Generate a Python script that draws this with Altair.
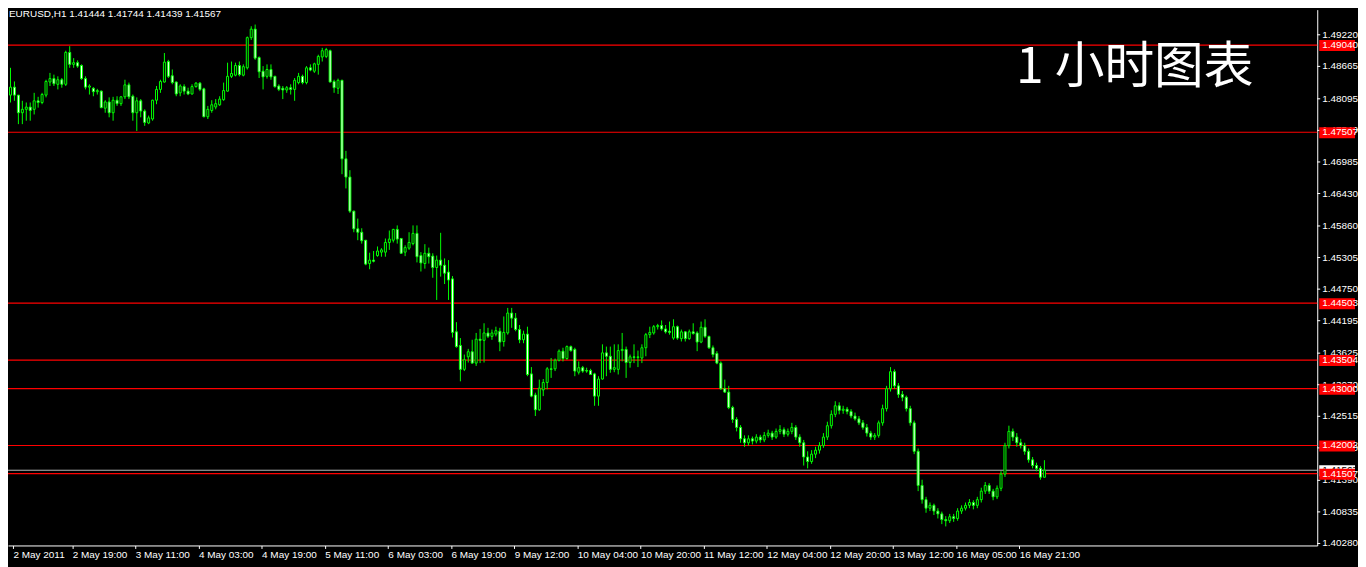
import json
import altair as alt
import pandas as pd

# ---------------- data ----------------
opens = [
    1.4816, 1.4830, 1.4816, 1.4785, 1.4791, 1.4795, 1.4791, 1.4806, 1.4803, 1.4816,
    1.4839, 1.4845, 1.4835, 1.4843, 1.4835, 1.4891, 1.4870, 1.4873, 1.4868, 1.4845,
    1.4830, 1.4828, 1.4822, 1.4823, 1.4793, 1.4804, 1.4785, 1.4807, 1.4801, 1.4813,
    1.4834, 1.4814, 1.4785, 1.4806, 1.4788, 1.4767, 1.4774, 1.4807, 1.4826, 1.4839,
    1.4875, 1.4850, 1.4839, 1.4820, 1.4831, 1.4823, 1.4818, 1.4831, 1.4837, 1.4827,
    1.4778, 1.4789, 1.4795, 1.4799, 1.4808, 1.4823, 1.4849, 1.4851, 1.4868, 1.4851,
    1.4864, 1.4917, 1.4932, 1.4882, 1.4858, 1.4849, 1.4861, 1.4849, 1.4832, 1.4828,
    1.4825, 1.4829, 1.4826, 1.4838, 1.4849, 1.4838, 1.4864, 1.4858, 1.4870, 1.4883,
    1.4884, 1.4894, 1.4840, 1.4828, 1.4842, 1.4704, 1.4672, 1.4612, 1.4581, 1.4575,
    1.4561, 1.4520, 1.4526, 1.4534, 1.4540, 1.4540, 1.4557, 1.4561, 1.4580, 1.4564,
    1.4540, 1.4547, 1.4555, 1.4573, 1.4534, 1.4520, 1.4538, 1.4533, 1.4513, 1.4526,
    1.4517, 1.4505, 1.4493, 1.4400, 1.4376, 1.4334, 1.4356, 1.4365, 1.4345, 1.4387,
    1.4385, 1.4398, 1.4392, 1.4396, 1.4401, 1.4383, 1.4398, 1.4433, 1.4424, 1.4404,
    1.4386, 1.4396, 1.4326, 1.4289, 1.4263, 1.4298, 1.4311, 1.4335, 1.4335, 1.4350,
    1.4366, 1.4353, 1.4374, 1.4369, 1.4329, 1.4337, 1.4332, 1.4332, 1.4326, 1.4287,
    1.4317, 1.4363, 1.4357, 1.4334, 1.4334, 1.4367, 1.4369, 1.4346, 1.4356, 1.4355,
    1.4354, 1.4372, 1.4395, 1.4398, 1.4409, 1.4411, 1.4405, 1.4401, 1.4389, 1.4409,
    1.4388, 1.4400, 1.4388, 1.4400, 1.4398, 1.4382, 1.4408, 1.4392, 1.4372, 1.4362,
    1.4345, 1.4300, 1.4294, 1.4267, 1.4246, 1.4232, 1.4212, 1.4205, 1.4212, 1.4208,
    1.4215, 1.4210, 1.4218, 1.4222, 1.4215, 1.4225, 1.4228, 1.4220, 1.4225, 1.4232,
    1.4215, 1.4205, 1.4180, 1.4172, 1.4185, 1.4192, 1.4200, 1.4215, 1.4235, 1.4255,
    1.4270, 1.4262, 1.4264, 1.4260, 1.4252, 1.4247, 1.4240, 1.4232, 1.4222, 1.4215,
    1.4218, 1.4240, 1.4265, 1.4300, 1.4330, 1.4305, 1.4290, 1.4285, 1.4265, 1.4240,
    1.4190, 1.4130, 1.4105, 1.4090, 1.4095, 1.4085, 1.4080, 1.4070, 1.4068, 1.4075,
    1.4072, 1.4085, 1.4090, 1.4095, 1.4100, 1.4095, 1.4105, 1.4120, 1.4130, 1.4120,
    1.4110, 1.4125, 1.4150, 1.4200, 1.4225, 1.4215, 1.4205, 1.4200, 1.4190, 1.4175,
    1.4165, 1.4160, 1.41444,
]
highs = [
    1.4864, 1.4840, 1.4816, 1.4806, 1.4803, 1.4803, 1.4820, 1.4813, 1.4820, 1.4843,
    1.4855, 1.4852, 1.4849, 1.4846, 1.4894, 1.4902, 1.4881, 1.4877, 1.4870, 1.4849,
    1.4835, 1.4830, 1.4827, 1.4824, 1.4807, 1.4812, 1.4813, 1.4814, 1.4814, 1.4843,
    1.4838, 1.4817, 1.4812, 1.4809, 1.4791, 1.4780, 1.4808, 1.4832, 1.4843, 1.4890,
    1.4878, 1.4861, 1.4840, 1.4835, 1.4835, 1.4829, 1.4835, 1.4839, 1.4839, 1.4829,
    1.4797, 1.4807, 1.4809, 1.4814, 1.4838, 1.4873, 1.4875, 1.4873, 1.4875, 1.4870,
    1.4919, 1.4937, 1.4940, 1.4884, 1.4867, 1.4870, 1.4870, 1.4850, 1.4835, 1.4832,
    1.4832, 1.4835, 1.4846, 1.4855, 1.4852, 1.4867, 1.4870, 1.4873, 1.4887, 1.4899,
    1.4899, 1.4896, 1.4843, 1.4845, 1.4843, 1.4718, 1.4684, 1.4613, 1.4599, 1.4582,
    1.4561, 1.4539, 1.4542, 1.4550, 1.4547, 1.4564, 1.4578, 1.4581, 1.4587, 1.4565,
    1.4552, 1.4575, 1.4587, 1.4587, 1.4540, 1.4554, 1.4548, 1.4538, 1.4534, 1.4574,
    1.4529, 1.4526, 1.4498, 1.4417, 1.4389, 1.4360, 1.4370, 1.4386, 1.4398, 1.4405,
    1.4415, 1.4407, 1.4404, 1.4409, 1.4407, 1.4427, 1.4442, 1.4442, 1.4433, 1.4412,
    1.4402, 1.4409, 1.4338, 1.4293, 1.4316, 1.4317, 1.4338, 1.4354, 1.4353, 1.4369,
    1.4372, 1.4376, 1.4376, 1.4372, 1.4348, 1.4340, 1.4337, 1.4335, 1.4328, 1.4322,
    1.4378, 1.4374, 1.4374, 1.4378, 1.4378, 1.4398, 1.4374, 1.4360, 1.4378, 1.4367,
    1.4378, 1.4398, 1.4409, 1.4412, 1.4414, 1.4420, 1.4412, 1.4418, 1.4422, 1.4411,
    1.4404, 1.4401, 1.4404, 1.4415, 1.4401, 1.4418, 1.4422, 1.4393, 1.4376, 1.4366,
    1.4348, 1.4316, 1.4305, 1.4270, 1.4250, 1.4236, 1.4218, 1.4218, 1.4216, 1.4220,
    1.4219, 1.4224, 1.4228, 1.4226, 1.4230, 1.4236, 1.4232, 1.4230, 1.4240, 1.4236,
    1.4220, 1.4210, 1.4190, 1.4192, 1.4198, 1.4206, 1.4222, 1.4242, 1.4262, 1.4278,
    1.4276, 1.4270, 1.4268, 1.4264, 1.4258, 1.4252, 1.4245, 1.4238, 1.4226, 1.4222,
    1.4244, 1.4272, 1.4305, 1.4338, 1.4334, 1.4310, 1.4296, 1.4288, 1.4270, 1.4244,
    1.4195, 1.4140, 1.4110, 1.4100, 1.4098, 1.4090, 1.4084, 1.4076, 1.4080, 1.4080,
    1.4090, 1.4095, 1.4100, 1.4106, 1.4104, 1.4110, 1.4126, 1.4136, 1.4134, 1.4124,
    1.4130, 1.4155, 1.4205, 1.4235, 1.4230, 1.4222, 1.4212, 1.4205, 1.4195, 1.4180,
    1.4170, 1.4164, 1.41744,
]
lows = [
    1.4803, 1.4806, 1.4765, 1.4765, 1.4771, 1.4771, 1.4782, 1.4794, 1.4800, 1.4812,
    1.4832, 1.4832, 1.4826, 1.4829, 1.4832, 1.4864, 1.4864, 1.4864, 1.4843, 1.4826,
    1.4817, 1.4814, 1.4817, 1.4793, 1.4785, 1.4777, 1.4771, 1.4797, 1.4797, 1.4809,
    1.4809, 1.4771, 1.4753, 1.4777, 1.4762, 1.4765, 1.4771, 1.4800, 1.4820, 1.4838,
    1.4846, 1.4835, 1.4814, 1.4814, 1.4817, 1.4816, 1.4817, 1.4829, 1.4823, 1.4777,
    1.4774, 1.4785, 1.4791, 1.4797, 1.4806, 1.4822, 1.4846, 1.4849, 1.4849, 1.4849,
    1.4861, 1.4913, 1.4878, 1.4846, 1.4826, 1.4845, 1.4843, 1.4829, 1.4823, 1.4809,
    1.4820, 1.4817, 1.4806, 1.4835, 1.4835, 1.4835, 1.4858, 1.4855, 1.4852, 1.4875,
    1.4881, 1.4838, 1.4820, 1.4818, 1.4677, 1.4652, 1.4609, 1.4575, 1.4561, 1.4555,
    1.4517, 1.4510, 1.4522, 1.4532, 1.4532, 1.4532, 1.4544, 1.4557, 1.4555, 1.4537,
    1.4533, 1.4544, 1.4552, 1.4522, 1.4506, 1.4511, 1.4520, 1.4495, 1.4456, 1.4497,
    1.4484, 1.4456, 1.4390, 1.4372, 1.4313, 1.4331, 1.4346, 1.4344, 1.4340, 1.4345,
    1.4346, 1.4389, 1.4386, 1.4392, 1.4366, 1.4374, 1.4395, 1.4407, 1.4401, 1.4380,
    1.4380, 1.4322, 1.4285, 1.4252, 1.4261, 1.4287, 1.4299, 1.4319, 1.4331, 1.4348,
    1.4348, 1.4351, 1.4365, 1.4322, 1.4325, 1.4328, 1.4328, 1.4324, 1.4270, 1.4270,
    1.4316, 1.4322, 1.4328, 1.4329, 1.4325, 1.4348, 1.4319, 1.4337, 1.4345, 1.4338,
    1.4345, 1.4357, 1.4389, 1.4395, 1.4404, 1.4402, 1.4397, 1.4395, 1.4386, 1.4386,
    1.4383, 1.4383, 1.4386, 1.4395, 1.4366, 1.4380, 1.4389, 1.4370, 1.4355, 1.4343,
    1.4298, 1.4293, 1.4264, 1.4240, 1.4225, 1.4205, 1.4198, 1.4200, 1.4202, 1.4204,
    1.4205, 1.4206, 1.4214, 1.4210, 1.4212, 1.4220, 1.4215, 1.4216, 1.4220, 1.4210,
    1.4198, 1.4165, 1.4160, 1.4168, 1.4178, 1.4186, 1.4196, 1.4210, 1.4230, 1.4250,
    1.4255, 1.4256, 1.4255, 1.4248, 1.4244, 1.4236, 1.4228, 1.4216, 1.4210, 1.4210,
    1.4214, 1.4235, 1.4260, 1.4295, 1.4300, 1.4284, 1.4278, 1.4260, 1.4235, 1.4185,
    1.4120, 1.4098, 1.4082, 1.4085, 1.4078, 1.4072, 1.4062, 1.4058, 1.4064, 1.4066,
    1.4068, 1.4080, 1.4086, 1.4090, 1.4088, 1.4090, 1.4100, 1.4115, 1.4115, 1.4104,
    1.4106, 1.4120, 1.4145, 1.4195, 1.4208, 1.4198, 1.4195, 1.4184, 1.4170, 1.4160,
    1.4155, 1.4140, 1.41439,
]
closes = [
    1.4830, 1.4816, 1.4785, 1.4791, 1.4795, 1.4789, 1.4806, 1.4803, 1.4817, 1.4840,
    1.4845, 1.4836, 1.4843, 1.4835, 1.4891, 1.4870, 1.4873, 1.4867, 1.4845, 1.4830,
    1.4832, 1.4822, 1.4824, 1.4794, 1.4804, 1.4785, 1.4807, 1.4801, 1.4813, 1.4834,
    1.4813, 1.4785, 1.4806, 1.4788, 1.4768, 1.4776, 1.4807, 1.4826, 1.4840, 1.4874,
    1.4849, 1.4838, 1.4818, 1.4832, 1.4823, 1.4818, 1.4831, 1.4837, 1.4826, 1.4778,
    1.4791, 1.4799, 1.4801, 1.4809, 1.4824, 1.4849, 1.4854, 1.4868, 1.4852, 1.4866,
    1.4917, 1.4932, 1.4881, 1.4857, 1.4848, 1.4861, 1.4848, 1.4831, 1.4826, 1.4825,
    1.4829, 1.4826, 1.4842, 1.4849, 1.4838, 1.4864, 1.4860, 1.4871, 1.4884, 1.4894,
    1.4896, 1.4839, 1.4829, 1.4842, 1.4704, 1.4672, 1.4612, 1.4581, 1.4575, 1.4560,
    1.4519, 1.4526, 1.4524, 1.4542, 1.4544, 1.4557, 1.4563, 1.4580, 1.4563, 1.4538,
    1.4548, 1.4557, 1.4573, 1.4532, 1.4521, 1.4538, 1.4532, 1.4513, 1.4526, 1.4517,
    1.4503, 1.4491, 1.4399, 1.4374, 1.4334, 1.4351, 1.4365, 1.4345, 1.4387, 1.4385,
    1.4398, 1.4392, 1.4398, 1.4402, 1.4382, 1.4399, 1.4433, 1.4424, 1.4404, 1.4386,
    1.4396, 1.4325, 1.4287, 1.4263, 1.4301, 1.4311, 1.4335, 1.4334, 1.4350, 1.4366,
    1.4353, 1.4374, 1.4367, 1.4331, 1.4337, 1.4331, 1.4331, 1.4325, 1.4287, 1.4317,
    1.4363, 1.4357, 1.4334, 1.4337, 1.4367, 1.4369, 1.4346, 1.4356, 1.4355, 1.4356,
    1.4372, 1.4395, 1.4399, 1.4409, 1.4411, 1.4405, 1.4400, 1.4399, 1.4409, 1.4389,
    1.4400, 1.4388, 1.4400, 1.4397, 1.4382, 1.4408, 1.4392, 1.4372, 1.4360, 1.4345,
    1.4300, 1.4294, 1.4267, 1.4246, 1.4232, 1.4212, 1.4205, 1.4212, 1.4208, 1.4215,
    1.4210, 1.4218, 1.4222, 1.4215, 1.4225, 1.4228, 1.4220, 1.4225, 1.4232, 1.4215,
    1.4205, 1.4180, 1.4172, 1.4185, 1.4192, 1.4200, 1.4215, 1.4235, 1.4255, 1.4270,
    1.4262, 1.4264, 1.4260, 1.4252, 1.4247, 1.4240, 1.4232, 1.4222, 1.4215, 1.4218,
    1.4240, 1.4265, 1.4300, 1.4330, 1.4305, 1.4290, 1.4285, 1.4265, 1.4240, 1.4190,
    1.4130, 1.4105, 1.4090, 1.4095, 1.4085, 1.4080, 1.4070, 1.4068, 1.4075, 1.4072,
    1.4085, 1.4090, 1.4095, 1.4100, 1.4095, 1.4105, 1.4120, 1.4130, 1.4120, 1.4110,
    1.4125, 1.4150, 1.4200, 1.4225, 1.4215, 1.4205, 1.4200, 1.4190, 1.4175, 1.4165,
    1.4160, 1.41444, 1.41567,
]

x_labels = ["2 May 2011", "2 May 19:00", "3 May 11:00", "4 May 03:00", "4 May 19:00",
            "5 May 11:00", "6 May 03:00", "6 May 19:00", "9 May 12:00", "10 May 04:00",
            "10 May 20:00", "11 May 12:00", "12 May 04:00", "12 May 20:00", "13 May 12:00",
            "16 May 05:00", "16 May 21:00"]
y_ticks = [1.49220, 1.48665, 1.48095, 1.47540, 1.46985, 1.46430, 1.45860, 1.45305,
           1.44750, 1.44195, 1.43625, 1.43070, 1.42515, 1.41960, 1.41390, 1.40835, 1.40280]
levels = [1.49040, 1.47507, 1.44503, 1.43504, 1.43000, 1.42002, 1.41507]
bid = [1.41567]
header = ["EURUSD,H1  1.41444 1.41744 1.41439 1.41567"]
big_title = ["1 小时图表"]

# ---------------- layout ----------------
PLOT_W, PLOT_H = 1317, 539
X0 = 0.625
x_dom = [X0, X0 + PLOT_W / 4.0]
y_dom = [1.40245, 1.49662]
LIME = "#00FF00"
FONT = "Liberation Sans"

n = len(closes)
df = pd.DataFrame({"i": list(range(n)), "open": opens, "high": highs,
                   "low": lows, "close": closes})
lv = pd.DataFrame({"p": levels})
bd = pd.DataFrame({"p": bid})
yt = pd.DataFrame({"p": y_ticks})

x_tick_vals = [X0] + [16 * k - 0.375 for k in range(1, len(x_labels))]
label_expr = json.dumps(x_labels) + "[round((datum.value + 0.375) / 16)]"

xs = alt.Scale(domain=x_dom, nice=False, zero=False)
ys = alt.Scale(domain=y_dom, nice=False, zero=False)

x_axis = alt.Axis(values=x_tick_vals, labelExpr=label_expr, orient="bottom",
                  domainColor="white", tickColor="white", tickSize=3,
                  labelColor="white", labelFont=FONT, labelFontSize=10,
                  labelAlign="left", labelBaseline="top", labelPadding=1,
                  labelOverlap=False, labelFlush=False, grid=False, title="")
y_axis = alt.Axis(orient="right", domainColor="white", ticks=False, labels=False,
                  grid=False, title="")


def Y(field):
    return alt.Y(field, scale=ys, axis=y_axis)


def X(field):
    return alt.X(field, scale=xs, axis=x_axis)


base = alt.Chart(df)

wicks = base.mark_rule(color=LIME, strokeWidth=1).encode(
    x=X("i:Q"), y=Y("low:Q"), y2="high:Q",
)
bodies = base.mark_bar(size=2, stroke=LIME, strokeWidth=1).encode(
    x=X("i:Q"), y=Y("open:Q"), y2="close:Q",
    fill=alt.condition("datum.close < datum.open", alt.value("#FFFFFF"), alt.value("#000000")),
)

level_lines = alt.Chart(lv).mark_rule(color="#FF0000", strokeWidth=1.2).encode(y=Y("p:Q"))
bid_line = alt.Chart(bd).mark_rule(color="#B8B8B8", strokeWidth=1).encode(y=Y("p:Q"))

# price scale ticks and labels on the right
tick_marks = alt.Chart(yt).mark_rule(color="#FFFFFF", strokeWidth=1).encode(
    x=alt.value(1317), x2=alt.value(1320), y=Y("p:Q")
)
tick_text = alt.Chart(yt).mark_text(color="#FFFFFF", font=FONT, fontSize=10,
                                    align="left", baseline="middle").encode(
    x=alt.value(1322), y=Y("p:Q"), text=alt.Text("p:Q", format=".5f")
)

bid_box = alt.Chart(bd).mark_rect(color="#FFFFFF", yOffset=-5, y2Offset=6).encode(
    x=alt.value(1319), x2=alt.value(1355), y=Y("p:Q"), y2="p:Q"
)
bid_txt = alt.Chart(bd).mark_text(color="#000000", font=FONT, fontSize=10,
                                  align="left", baseline="middle").encode(
    x=alt.value(1322), y=Y("p:Q"), text=alt.Text("p:Q", format=".5f")
)
lvl_box = alt.Chart(lv).mark_rect(color="#FF0000", yOffset=-5, y2Offset=6).encode(
    x=alt.value(1319), x2=alt.value(1355), y=Y("p:Q"), y2="p:Q"
)
lvl_txt = alt.Chart(lv).mark_text(color="#FFFFFF", font=FONT, fontSize=10,
                                  align="left", baseline="middle").encode(
    x=alt.value(1322), y=Y("p:Q"), text=alt.Text("p:Q", format=".5f")
)

head = alt.Chart(pd.DataFrame({"t": header})).mark_text(
    color="#FFFFFF", font=FONT, fontSize=10, align="left", baseline="top"
).encode(x=alt.value(1), y=alt.value(-1), text="t:N")

title_txt = alt.Chart(pd.DataFrame({"t": big_title})).mark_text(
    color="#FFFFFF", font="Noto Sans CJK SC", fontSize=50, align="left",
    baseline="alphabetic"
).encode(x=alt.value(1014), y=alt.value(74), text="t:N")

chart = alt.layer(
    level_lines, bid_line, wicks, bodies, tick_marks, tick_text,
    bid_box, bid_txt, lvl_box, lvl_txt, head, title_txt
).properties(
    width=PLOT_W, height=PLOT_H,
    padding={"left": 0, "top": 0, "right": 41, "bottom": 20},
    autosize=alt.AutoSizeParams(type="none"),
    background="#000000",
).configure_view(stroke="transparent")

chart.save("out.html", embed_options={"renderer": "svg", "actions": False})
